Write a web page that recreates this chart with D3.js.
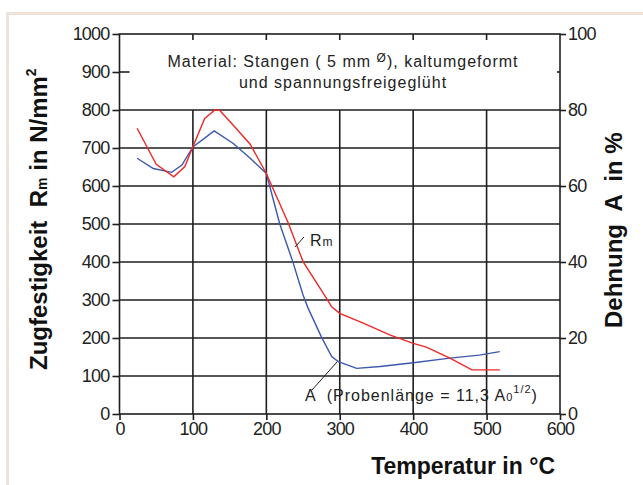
<!doctype html>
<html lang="de">
<head>
<meta charset="UTF-8">
<title>Zugfestigkeit und Dehnung</title>
<script src="https://cdn.jsdelivr.net/npm/d3@7"></script>
<style>
  body { margin: 0; background: #fff; }
  svg { display: block; }
  text { white-space: pre; }
  .tick text { font-family: "Liberation Sans", Arial, sans-serif; font-size: 18px; letter-spacing: -0.8px; fill: #222; }
  .title { font-family: "Liberation Sans", Arial, sans-serif; font-weight: bold; fill: #111; }
  .note { font-family: "Liberation Sans", Arial, sans-serif; font-size: 16px; letter-spacing: 1px; fill: #222; }
</style>
</head>
<body>
<svg width="643" height="485"></svg>
<script>
// temperature (°C) and tensile strength Rm (N/mm²)
var rmTemp = [24, 50, 74, 89, 100, 116, 130, 136, 155, 178, 200, 230, 250, 282, 289, 300, 332, 368, 400, 418, 450, 480, 518];
var rmValue = [752, 657, 624, 651, 703, 778, 800, 800, 760, 710, 633, 502, 401, 304, 282, 265, 239, 208, 186, 176, 147, 116, 116];

// temperature (°C) and elongation A (%)
var aTemp = [24, 46, 71, 85, 100, 129, 155, 178, 200, 218, 236, 250, 257, 275, 289, 298, 323, 355, 400, 450, 490, 518];
var aValue = [67.3, 64.6, 63.6, 65.5, 70.3, 74.5, 71.2, 67.3, 63.3, 50.2, 40.1, 31.3, 27.8, 20.3, 15.1, 13.8, 12.0, 12.5, 13.5, 14.7, 15.5, 16.4];

var xTicks = [0, 100, 200, 300, 400, 500, 600];
var leftTicks = [0, 100, 200, 300, 400, 500, 600, 700, 800, 900, 1000];
var rightTicks = [0, 20, 40, 60, 80, 100];
var gridX = [100, 200, 300, 400, 500];
var gridY = [100, 200, 300, 400, 500, 600, 700, 800];

var svg = d3.select("svg");

// beige frame strips
svg.append("rect").attr("x", 6).attr("y", 12).attr("width", 637).attr("height", 3).attr("fill", "#eee2d9");
svg.append("rect").attr("x", 6).attr("y", 12).attr("width", 3).attr("height", 473).attr("fill", "#eee2d9");

var x = d3.scaleLinear().domain([0, 600]).range([119.5, 560]);
var yL = d3.scaleLinear().domain([0, 1000]).range([414, 34]);
var yR = d3.scaleLinear().domain([0, 100]).range([414, 34]);

var gridColor = "#1e1e1e";

// grid
svg.append("g").selectAll("line").data(gridY).enter().append("line")
    .attr("x1", x(0)).attr("x2", x(600))
    .attr("y1", d => yL(d)).attr("y2", d => yL(d))
    .attr("stroke", gridColor).attr("stroke-width", 1.6);
svg.append("g").selectAll("line").data(gridX).enter().append("line")
    .attr("x1", d => x(d)).attr("x2", d => x(d))
    .attr("y1", yL(800)).attr("y2", yL(0))
    .attr("stroke", gridColor).attr("stroke-width", 1.6);
// short ticks on top border
svg.append("g").selectAll("line").data(gridX).enter().append("line")
    .attr("x1", d => x(d)).attr("x2", d => x(d))
    .attr("y1", yL(1000)).attr("y2", yL(1000) + 6)
    .attr("stroke", gridColor).attr("stroke-width", 1.6);
// inner tick at 900
svg.append("line").attr("x1", x(0)).attr("x2", x(0) + 10).attr("y1", yL(900)).attr("y2", yL(900))
    .attr("stroke", gridColor).attr("stroke-width", 1.6);
svg.append("line").attr("x1", x(600) - 3).attr("x2", x(600)).attr("y1", yL(900)).attr("y2", yL(900))
    .attr("stroke", gridColor).attr("stroke-width", 1.6);

// frame
svg.append("rect").attr("x", x(0)).attr("y", yL(1000))
    .attr("width", x(600) - x(0)).attr("height", yL(0) - yL(1000))
    .attr("fill", "none").attr("stroke", gridColor).attr("stroke-width", 1.6);

// axes
var axL = svg.append("g").attr("transform", "translate(" + x(0) + ",0)")
    .call(d3.axisLeft(yL).tickValues(leftTicks).tickFormat(d3.format("d")).tickSize(7).tickPadding(3));
var axR = svg.append("g").attr("transform", "translate(" + x(600) + ",0)")
    .call(d3.axisRight(yR).tickValues(rightTicks).tickFormat(d3.format("d")).tickSize(6).tickPadding(2));
var axB = svg.append("g").attr("transform", "translate(0," + yL(0) + ")")
    .call(d3.axisBottom(x).tickValues(xTicks).tickFormat(d3.format("d")).tickSize(6).tickPadding(2));
[axL, axR, axB].forEach(function (a) {
    a.select(".domain").remove();
    a.selectAll(".tick line").attr("stroke", gridColor).attr("stroke-width", 1.6);
    a.attr("font-size", null).attr("font-family", null);
});

// curves
var lineRm = d3.line().x((d, i) => x(rmTemp[i])).y(d => yL(d));
var lineA = d3.line().x((d, i) => x(aTemp[i])).y(d => yR(d));
svg.append("path").datum(aValue).attr("d", lineA)
    .attr("fill", "none").attr("stroke", "#3c58ad").attr("stroke-width", 1.4);
svg.append("path").datum(rmValue).attr("d", lineRm)
    .attr("fill", "none").attr("stroke", "#f02828").attr("stroke-width", 1.4);

// note box text
var note = svg.append("text").attr("class", "note").attr("text-anchor", "middle").attr("x", 343).attr("y", 67);
note.append("tspan").text("Material: Stangen ( 5 mm ");
note.append("tspan").attr("font-size", 12).attr("dy", -5).text("Ø");
note.append("tspan").attr("dy", 5).text("), kaltumgeformt");
svg.append("text").attr("class", "note").attr("text-anchor", "middle").attr("x", 343).attr("y", 88)
    .text("und spannungsfreigeglüht");

// curve labels
svg.append("line").attr("x1", 295).attr("y1", 247).attr("x2", 304).attr("y2", 237)
    .attr("stroke", "#222").attr("stroke-width", 1);
var rmLab = svg.append("text").attr("class", "note").attr("x", 310).attr("y", 246).attr("font-size", 19);
rmLab.append("tspan").text("R");
rmLab.append("tspan").attr("font-size", 12).text("m");

svg.append("line").attr("x1", 312).attr("y1", 390).attr("x2", 337).attr("y2", 362)
    .attr("stroke", "#222").attr("stroke-width", 1);
var aLab = svg.append("text").attr("class", "note").attr("x", 305).attr("y", 401).attr("font-size", 17);
aLab.append("tspan").text("A  (Probenlänge = 11,3 A");
aLab.append("tspan").attr("font-size", 11).text("0");
aLab.append("tspan").attr("font-size", 11).attr("dy", -8).text("1/2");
aLab.append("tspan").attr("dy", 8).text(")");

// axis titles
svg.append("text").attr("class", "title").attr("font-size", 23)
    .attr("text-anchor", "end").attr("x", 555).attr("y", 474)
    .text("Temperatur in \u00B0C");

var tL = svg.append("text").attr("class", "title").attr("font-size", 24)
    .attr("transform", "translate(47,370) rotate(-90)");
tL.append("tspan").text("Zugfestigkeit  R");
tL.append("tspan").attr("font-size", 14).text("m");
tL.append("tspan").text(" in N/mm");
tL.append("tspan").attr("font-size", 14).attr("dy", -11).text("2");

svg.append("text").attr("class", "title").attr("font-size", 24)
    .attr("transform", "translate(622,328) rotate(-90)")
    .text("Dehnung  A  in %");
</script>
</body>
</html>
